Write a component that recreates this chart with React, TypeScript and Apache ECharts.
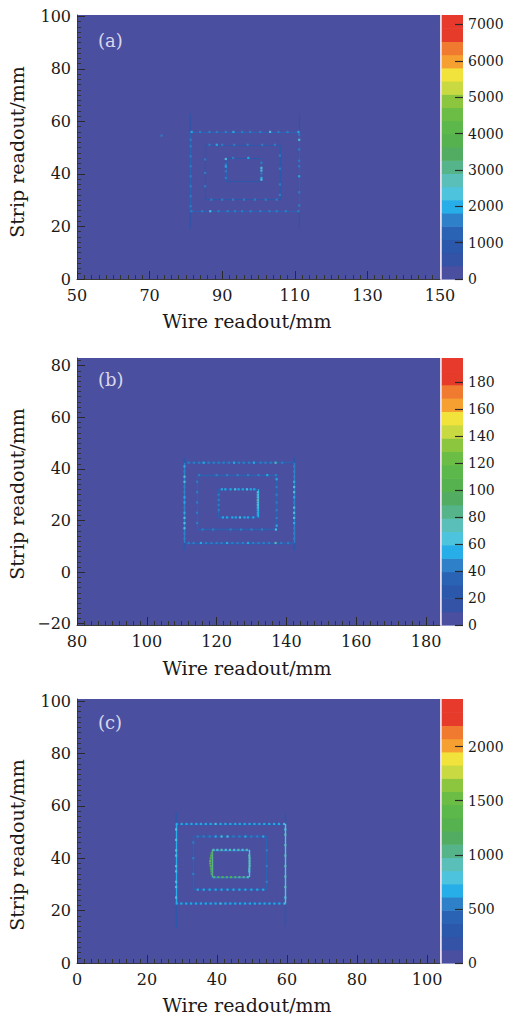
import React, { useEffect, useRef } from 'react';
import * as echarts from 'echarts';

// ROOT-style 20-level palette, lowest band first
const PALETTE = [
  '#4b4f9f', '#3453a6', '#2b58ab', '#2a62b4', '#2e80c8', '#27aee8', '#4ec3de', '#5bbfb9', '#55b48a', '#52ad62',
  '#56b24f', '#5cb84a', '#6bbd45', '#8cc63f', '#c9d941', '#f2e23c', '#f5a030', '#f07a30', '#e63a2b', '#e8392d',
];

// ---------- Panel (a) ----------
const aXTicks = [50, 70, 90, 110, 130, 150];
const aYTicks = [0, 20, 40, 60, 80, 100];
const aZTicks = [0, 1000, 2000, 3000, 4000, 5000, 6000, 7000];
const aXRange = [50, 150];
const aYRange = [0, 100.5];
const aZMax = 7260;
// [x1, y1, x2, y2, counts]
const aEdges: number[][] = [
  [81.3, 25.8, 111.2, 25.8, 1150], [81.3, 56.0, 111.2, 56.0, 1150], [81.3, 25.8, 81.3, 56.0, 1150], [111.2, 25.8, 111.2, 56.0, 1200],
  [85.3, 30.2, 105.9, 30.2, 900], [85.3, 51.1, 105.9, 51.1, 1000], [85.3, 30.2, 85.3, 51.1, 900], [105.9, 30.2, 105.9, 51.1, 900],
  [91.0, 37.2, 100.8, 37.2, 800], [91.0, 46.1, 100.8, 46.1, 900], [91.0, 37.2, 91.0, 46.1, 1150], [100.8, 37.2, 100.8, 46.1, 1150],
  [81.3, 56.0, 81.3, 63.0, 450], [81.3, 19.0, 81.3, 25.8, 450], [111.2, 56.0, 111.2, 63.0, 450], [111.2, 19.0, 111.2, 25.8, 450],
];
// [x, y, counts]
const aHits: number[][] = [
  [81.6, 56.0, 1900], [83.9, 56.0, 1600], [86.5, 56.0, 1500], [88.5, 56.0, 1600], [91.0, 56.0, 1500], [93.1, 56.0, 1900], [95.5, 56.0, 1500],
  [97.7, 56.0, 1600], [100.5, 56.0, 1500], [103.2, 56.0, 2200], [105.5, 56.0, 1500], [108.0, 56.0, 1600], [111.0, 56.0, 1900],
  [81.5, 25.8, 1600], [84.5, 25.8, 1500], [86.7, 25.8, 2200], [89.0, 25.8, 1600], [91.5, 25.8, 1500], [93.5, 25.8, 1700], [95.5, 25.8, 1500],
  [97.8, 25.8, 1700], [100.5, 25.8, 1600], [103.0, 25.8, 1700], [105.0, 25.8, 1500], [107.5, 25.8, 1600], [111.0, 25.8, 1600],
  [81.3, 53.0, 1700], [81.3, 50.5, 1600], [81.3, 46.7, 1700], [81.3, 42.9, 1600], [81.3, 39.1, 1800], [81.3, 35.3, 1700], [81.3, 31.5, 1600], [81.3, 27.7, 1600],
  [111.2, 55.0, 1700], [111.2, 53.0, 2200], [111.2, 49.3, 1600], [111.2, 45.0, 1600], [111.2, 42.9, 1700], [111.2, 39.1, 1900], [111.2, 33.0, 1600], [111.2, 28.0, 1600],
  [86.5, 51.1, 1600], [88.5, 51.1, 1900], [90.0, 51.1, 1700], [93.3, 51.1, 1600], [97.0, 51.1, 1600], [101.0, 51.1, 1600], [104.5, 51.1, 1500],
  [87.0, 30.2, 1500], [90.0, 30.2, 1500], [93.0, 30.2, 1600], [96.0, 30.2, 1500], [99.0, 30.2, 1600], [102.0, 30.2, 1500], [105.0, 30.2, 1500],
  [85.3, 45.5, 1500], [85.3, 40.4, 1500], [85.3, 35.3, 1500],
  [105.9, 47.0, 1500], [105.9, 42.0, 1600], [105.9, 36.0, 1500], [105.9, 32.0, 1500],
  [91.0, 45.7, 2200], [91.0, 43.5, 1700], [91.0, 42.8, 1900], [91.0, 41.0, 1700], [91.0, 38.5, 1800],
  [100.8, 44.2, 1700], [100.8, 42.3, 2200], [100.8, 41.3, 2300], [100.8, 40.2, 1800], [100.8, 38.5, 1900], [100.8, 37.8, 2200],
  [93.0, 46.1, 1600], [97.2, 46.1, 1900],
  [73.3, 54.6, 1800],
];

// ---------- Panel (b) ----------
const bXTicks = [80, 100, 120, 140, 160, 180];
const bYTicks = [-20, 0, 20, 40, 60, 80];
const bZTicks = [0, 20, 40, 60, 80, 100, 120, 140, 160, 180];
const bXRange = [80, 184];
const bYRange = [-20.5, 83];
const bZMax = 198;
const bEdges: number[][] = [
  [110.8, 11.3, 142.2, 11.3, 32], [110.8, 42.4, 142.2, 42.4, 32], [110.8, 11.3, 110.8, 42.4, 45], [142.2, 11.3, 142.2, 42.4, 45],
  [114.4, 16.5, 137.2, 16.5, 30], [114.4, 37.6, 137.2, 37.6, 30], [114.4, 16.5, 114.4, 37.6, 32], [137.2, 16.5, 137.2, 37.6, 36],
  [120.6, 21.2, 131.8, 21.2, 34], [120.6, 32.1, 131.8, 32.1, 34], [120.6, 21.2, 120.6, 32.1, 38], [131.8, 21.2, 131.8, 32.1, 55],
  [110.8, 42.4, 110.8, 44.5, 20], [110.8, 8.5, 110.8, 11.3, 20], [142.2, 42.4, 142.2, 44.5, 20], [142.2, 8.5, 142.2, 11.3, 20],
];
const bHits: number[][] = [
  [112.0, 42.4, 45], [113.5, 42.4, 45], [115.0, 42.4, 45], [116.3, 42.4, 55], [117.7, 42.4, 45], [119.2, 42.4, 45], [120.6, 42.4, 45],
  [122.0, 42.4, 45], [123.5, 42.4, 45], [125.0, 42.4, 50], [126.4, 42.4, 45], [127.8, 42.4, 45], [129.3, 42.4, 45], [130.7, 42.4, 50],
  [132.6, 42.4, 45], [134.0, 42.4, 45], [135.5, 42.4, 45], [136.9, 42.4, 70], [138.8, 42.4, 45],
  [112.0, 11.3, 45], [113.4, 11.3, 45], [115.5, 11.3, 55], [117.0, 11.3, 45], [118.5, 11.3, 45], [120.0, 11.3, 45], [121.4, 11.3, 45],
  [123.0, 11.3, 50], [124.5, 11.3, 45], [126.0, 11.3, 45], [127.5, 11.3, 45], [129.0, 11.3, 50], [130.5, 11.3, 45], [132.0, 11.3, 45],
  [133.5, 11.3, 45], [135.0, 11.3, 45], [136.9, 11.3, 70], [138.5, 11.3, 45], [140.5, 11.3, 45],
  [110.8, 41.0, 50], [110.8, 39.0, 45], [110.8, 37.0, 65], [110.8, 35.0, 62], [110.8, 33.0, 48], [110.8, 31.0, 45], [110.8, 29.0, 50],
  [110.8, 27.0, 55], [110.8, 25.0, 45], [110.8, 23.0, 55], [110.8, 21.0, 65], [110.8, 19.0, 62], [110.8, 17.0, 62], [110.8, 15.0, 48], [110.8, 13.0, 45],
  [142.2, 41.0, 48], [142.2, 39.0, 45], [142.2, 37.0, 48], [142.2, 35.0, 55], [142.2, 33.0, 62], [142.2, 31.0, 65], [142.2, 29.0, 55],
  [142.2, 27.0, 48], [142.2, 25.0, 62], [142.2, 23.0, 65], [142.2, 21.0, 62], [142.2, 19.0, 55], [142.2, 17.0, 48], [142.2, 15.0, 45], [142.2, 13.0, 48],
  [115.0, 37.6, 42], [120.0, 37.6, 42], [123.0, 37.6, 42], [126.0, 37.6, 45], [129.0, 37.6, 42], [132.0, 37.6, 42], [134.5, 37.6, 50], [137.0, 37.6, 42],
  [116.0, 16.5, 42], [119.0, 16.5, 42], [124.0, 16.5, 42], [127.0, 16.5, 45], [130.0, 16.5, 42], [133.0, 16.5, 42], [137.0, 16.5, 62],
  [114.4, 35.0, 40], [114.4, 31.0, 40], [114.4, 27.0, 40], [114.4, 23.0, 40], [114.4, 19.0, 40],
  [137.2, 36.0, 50], [137.2, 33.0, 42], [137.2, 30.0, 42], [137.2, 27.0, 42], [137.2, 24.0, 42], [137.2, 21.0, 42], [137.2, 18.0, 50],
  [121.5, 32.1, 52], [122.5, 32.1, 52], [124.0, 32.1, 52], [125.3, 32.1, 60], [126.3, 32.1, 52], [127.5, 32.1, 52], [128.7, 32.1, 62], [129.8, 32.1, 52], [130.8, 32.1, 52],
  [121.8, 21.2, 52], [123.0, 21.2, 52], [124.5, 21.2, 55], [125.5, 21.2, 52], [126.7, 21.2, 60], [128.0, 21.2, 52], [129.0, 21.2, 52], [130.5, 21.2, 52],
  [120.6, 30.0, 42], [120.6, 28.0, 42], [120.6, 26.0, 42], [120.6, 24.0, 42],
  [131.8, 31.0, 62], [131.8, 30.0, 60], [131.8, 29.0, 66], [131.8, 28.0, 72], [131.8, 27.0, 66], [131.8, 26.0, 62], [131.8, 25.0, 60],
  [131.8, 24.0, 58], [131.8, 23.0, 58], [131.8, 22.0, 55],
];

// ---------- Panel (c) ----------
const cXTicks = [0, 20, 40, 60, 80, 100];
const cYTicks = [0, 20, 40, 60, 80, 100];
const cZTicks = [0, 500, 1000, 1500, 2000];
const cXRange = [0, 103.7];
const cYRange = [0, 100.8];
const cZMax = 2440;
const cEdges: number[][] = [
  [28.3, 22.7, 59.5, 22.7, 450], [28.3, 53.1, 59.5, 53.1, 450], [28.3, 22.7, 28.3, 53.1, 720], [59.5, 22.7, 59.5, 53.1, 780],
  [33.2, 28.0, 54.2, 28.0, 420], [33.2, 48.3, 54.2, 48.3, 420], [33.2, 28.0, 33.2, 48.3, 470], [54.2, 28.0, 54.2, 48.3, 470],
  [38.5, 32.8, 49.2, 32.8, 600], [38.5, 43.2, 49.2, 43.2, 560], [38.5, 32.8, 38.5, 43.2, 1000], [49.2, 32.8, 49.2, 43.2, 800],
  [28.3, 53.1, 28.3, 57.5, 300], [28.3, 13.5, 28.3, 22.7, 300], [59.5, 53.1, 59.5, 57.0, 300], [59.5, 14.0, 59.5, 22.7, 300],
];
const cHits: number[][] = [
  [28.5, 53.1, 650], [29.9, 53.1, 620], [31.3, 53.1, 680], [32.7, 53.1, 620], [34.1, 53.1, 620], [35.4, 53.1, 680], [36.8, 53.1, 620],
  [38.2, 53.1, 620], [39.6, 53.1, 740], [41.0, 53.1, 620], [42.4, 53.1, 620], [43.8, 53.1, 680], [45.2, 53.1, 620], [46.5, 53.1, 620],
  [47.9, 53.1, 680], [49.3, 53.1, 620], [50.7, 53.1, 620], [52.1, 53.1, 680], [53.5, 53.1, 620], [54.9, 53.1, 620], [56.3, 53.1, 680],
  [57.7, 53.1, 620], [59.2, 53.1, 740],
  [28.5, 22.7, 680], [29.8, 22.7, 620], [31.2, 22.7, 620], [32.6, 22.7, 680], [34.0, 22.7, 620], [35.4, 22.7, 620], [36.8, 22.7, 680],
  [38.2, 22.7, 620], [39.6, 22.7, 620], [41.0, 22.7, 760], [42.4, 22.7, 620], [43.8, 22.7, 620], [45.2, 22.7, 680], [46.6, 22.7, 620],
  [48.0, 22.7, 620], [49.4, 22.7, 680], [50.8, 22.7, 620], [52.2, 22.7, 620], [53.6, 22.7, 680], [55.0, 22.7, 620], [56.4, 22.7, 620],
  [57.8, 22.7, 680], [59.3, 22.7, 760],
  [28.3, 51.0, 740], [28.3, 47.0, 780], [28.3, 43.0, 740], [28.3, 41.0, 800], [28.3, 37.0, 740], [28.3, 35.0, 780], [28.3, 31.0, 740],
  [28.3, 29.0, 780], [28.3, 25.0, 740],
  [59.5, 51.0, 820], [59.5, 49.0, 860], [59.5, 45.0, 860], [59.5, 41.0, 880], [59.5, 37.0, 860], [59.5, 33.0, 860], [59.5, 29.0, 860],
  [59.5, 25.0, 820],
  [34.5, 48.3, 600], [36.2, 48.3, 600], [37.9, 48.3, 600], [39.6, 48.3, 620], [41.3, 48.3, 760], [43.0, 48.3, 760], [44.7, 48.3, 600],
  [46.4, 48.3, 600], [48.1, 48.3, 620], [49.8, 48.3, 600], [51.5, 48.3, 600], [53.2, 48.3, 620],
  [34.5, 28.0, 620], [36.2, 28.0, 620], [37.9, 28.0, 680], [39.6, 28.0, 620], [41.3, 28.0, 620], [43.0, 28.0, 680], [44.7, 28.0, 620],
  [46.4, 28.0, 620], [48.1, 28.0, 680], [49.8, 28.0, 620], [51.5, 28.0, 620], [53.2, 28.0, 680],
  [33.2, 46.0, 500], [33.2, 40.0, 540], [33.2, 34.0, 500],
  [54.2, 43.0, 540], [54.2, 37.0, 540], [54.2, 31.0, 500],
  [39.0, 43.2, 860], [40.1, 43.2, 840], [41.3, 43.2, 880], [42.5, 43.2, 840], [43.7, 43.2, 860], [44.9, 43.2, 840], [46.1, 43.2, 880],
  [47.3, 43.2, 840], [48.5, 43.2, 860],
  [39.2, 32.8, 1050], [40.4, 32.8, 1200], [41.6, 32.8, 1250], [42.8, 32.8, 1150], [44.0, 32.8, 1250], [45.2, 32.8, 1200], [46.4, 32.8, 1050],
  [47.6, 32.8, 1000], [48.8, 32.8, 950],
  [38.5, 42.0, 1100], [38.3, 41.0, 1250], [38.2, 40.0, 1400], [38.1, 39.0, 1480], [38.1, 38.0, 1480], [38.2, 37.0, 1400], [38.3, 36.0, 1250],
  [38.4, 35.0, 1200], [38.5, 34.0, 1100],
  [49.2, 41.0, 860], [49.3, 40.0, 900], [49.3, 39.0, 950], [49.3, 38.0, 900], [49.3, 37.0, 950], [49.2, 36.0, 860], [49.2, 35.0, 840],
];

// ---------- layout ----------
const FONT = 'DejaVu Serif';
const PLOT_L = 77;
const PLOT_R = 440;
const CB_L = 441.5;
const CB_R = 463;

const panels = [
  { tag: '(a)', top: 15, bottom: 279, xTicks: aXTicks, yTicks: aYTicks, zTicks: aZTicks, xRange: aXRange, yRange: aYRange, zMax: aZMax,
    edges: aEdges, hits: aHits, xTitleY: 321, yTitleY: 152, tagY: 40, dot: 2.2, edgeW: 1.2 },
  { tag: '(b)', top: 358, bottom: 625, xTicks: bXTicks, yTicks: bYTicks, zTicks: bZTicks, xRange: bXRange, yRange: bYRange, zMax: bZMax,
    edges: bEdges, hits: bHits, xTitleY: 668, yTitleY: 494, tagY: 379, dot: 2.2, edgeW: 1.3 },
  { tag: '(c)', top: 699, bottom: 963, xTicks: cXTicks, yTicks: cYTicks, zTicks: cZTicks, xRange: cXRange, yRange: cYRange, zMax: cZMax,
    edges: cEdges, hits: cHits, xTitleY: 1005, yTitleY: 845, tagY: 722, dot: 2.2, edgeW: 1.4 },
];

const colorFor = (v: number, max: number) =>
  PALETTE[Math.min(PALETTE.length - 1, Math.max(0, Math.floor((v / max) * PALETTE.length)))];

const minorTicks = (min: number, max: number, step: number, majors: number[]) => {
  const out: number[] = [];
  for (let v = Math.ceil(min / step) * step; v <= max + 1e-9; v += step) {
    const r = Math.round(v * 100) / 100;
    if (!majors.includes(r)) out.push(r);
  }
  return out;
};

const fmt = (v: number) => String(v).replace('-', '\u2212');

function buildOption() {
  const grid: any[] = [];
  const xAxis: any[] = [];
  const yAxis: any[] = [];
  const series: any[] = [];
  const graphic: any[] = [];

  panels.forEach((p, i) => {
    const gMain = i * 2;
    const gCb = i * 2 + 1;
    const h = p.bottom - p.top;
    grid.push({ left: PLOT_L, top: p.top, width: PLOT_R - PLOT_L, height: h, show: true, backgroundColor: PALETTE[0], borderWidth: 0 });
    grid.push({ left: CB_L, top: p.top, width: CB_R - CB_L, height: h, show: false });

    const axBase = { type: 'value', splitLine: { show: false }, z: 10 };
    // main x major
    xAxis.push({
      ...axBase, gridIndex: gMain, min: p.xRange[0], max: p.xRange[1], position: 'bottom',
      axisLine: { show: true, onZero: false, lineStyle: { color: '#3a3a3a', width: 1 } },
      axisTick: { show: true, inside: true, length: 8, customValues: p.xTicks, lineStyle: { color: '#2a2a2a', width: 1 } },
      axisLabel: { customValues: p.xTicks, margin: 8, fontFamily: FONT, fontSize: 16, color: '#1a1a1a', formatter: fmt },
    });
    // main x minor
    xAxis.push({
      ...axBase, gridIndex: gMain, min: p.xRange[0], max: p.xRange[1], position: 'bottom',
      axisLine: { show: false, onZero: false },
      axisTick: { show: true, inside: true, length: 4, customValues: minorTicks(p.xRange[0], p.xRange[1], 2, p.xTicks), lineStyle: { color: '#333', width: 1 } },
      axisLabel: { show: false },
    });
    // colorbar x
    xAxis.push({ ...axBase, gridIndex: gCb, min: 0, max: 1, show: false });

    // main y major
    yAxis.push({
      ...axBase, gridIndex: gMain, min: p.yRange[0], max: p.yRange[1], position: 'left',
      axisLine: { show: true, onZero: false, lineStyle: { color: '#3a3a3a', width: 1 } },
      axisTick: { show: true, inside: true, length: 8, customValues: p.yTicks, lineStyle: { color: '#2a2a2a', width: 1 } },
      axisLabel: { customValues: p.yTicks, margin: 6, fontFamily: FONT, fontSize: 16, color: '#1a1a1a', formatter: fmt },
    });
    // main y minor
    yAxis.push({
      ...axBase, gridIndex: gMain, min: p.yRange[0], max: p.yRange[1], position: 'left',
      axisLine: { show: false, onZero: false },
      axisTick: { show: true, inside: true, length: 4, customValues: minorTicks(p.yRange[0], p.yRange[1], 2, p.yTicks), lineStyle: { color: '#333', width: 1 } },
      axisLabel: { show: false },
    });
    // colorbar y
    yAxis.push({
      ...axBase, gridIndex: gCb, min: 0, max: p.zMax, position: 'right',
      axisLine: { show: false, onZero: false },
      axisTick: { show: true, inside: true, length: 8, customValues: p.zTicks, lineStyle: { color: '#2a2a2a', width: 1.2 } },
      axisLabel: { customValues: p.zTicks, margin: 5, fontFamily: FONT, fontSize: 14, color: '#1a1a1a', padding: [0, 0, 6, 0], formatter: (v: number) => String(v) },
    });

    const xi = i * 3;
    const yi = i * 3;

    // colorbar bands
    const step = p.zMax / PALETTE.length;
    series.push({
      type: 'custom', xAxisIndex: xi + 2, yAxisIndex: yi + 2, silent: true, clip: false, z: 1,
      data: PALETTE.map((_, k) => [k * step, (k + 1) * step, k]),
      renderItem: (_params: any, api: any) => {
        const lo = api.value(0);
        const hi = api.value(1);
        const k = api.value(2);
        const p0 = api.coord([0, lo]);
        const p1 = api.coord([1, hi]);
        return {
          type: 'rect',
          shape: { x: p0[0], y: p1[1], width: p1[0] - p0[0], height: p0[1] - p1[1] + 0.6 },
          style: { fill: PALETTE[k] },
        };
      },
    });

    // hit-line segments
    series.push({
      type: 'lines', coordinateSystem: 'cartesian2d', xAxisIndex: xi, yAxisIndex: yi, silent: true, z: 2,
      lineStyle: { width: p.edgeW, opacity: 1 },
      data: p.edges.map((e) => ({ coords: [[e[0], e[1]], [e[2], e[3]]], lineStyle: { color: colorFor(e[4], p.zMax), width: p.edgeW } })),
    });

    // hit cells
    series.push({
      type: 'scatter', xAxisIndex: xi, yAxisIndex: yi, silent: true, z: 3, symbol: 'rect', symbolSize: p.dot,
      data: p.hits.map((d) => ({ value: [d[0], d[1]], itemStyle: { color: colorFor(d[2], p.zMax), opacity: 0.9 } })),
    });

    // separator between plot and colour bar
    graphic.push({ type: 'rect', shape: { x: PLOT_R, y: p.top, width: 1.5, height: h }, style: { fill: '#e6dbe8' }, z: 50 });
    // axis titles
    graphic.push({
      type: 'text', x: 247, y: p.xTitleY, z: 50,
      style: { text: 'Wire readout/mm', fontFamily: FONT, fontSize: 19, fill: '#1a1a1a', align: 'center', verticalAlign: 'middle', textAlign: 'center', textVerticalAlign: 'middle' },
    });
    graphic.push({
      type: 'text', x: 17, y: p.yTitleY, rotation: Math.PI / 2, z: 50,
      style: { text: 'Strip readout/mm', fontFamily: FONT, fontSize: 19, fill: '#1a1a1a', align: 'center', verticalAlign: 'middle', textAlign: 'center', textVerticalAlign: 'middle' },
    });
    // panel tag
    graphic.push({
      type: 'text', x: 98, y: p.tagY, z: 50,
      style: { text: p.tag, fontFamily: FONT, fontSize: 18, fill: '#d8d8ec', align: 'left', verticalAlign: 'middle', textAlign: 'left', textVerticalAlign: 'middle' },
    });
  });

  return { animation: false, backgroundColor: '#ffffff', grid, xAxis, yAxis, series, graphic };
}

export default function App() {
  const ref = useRef<HTMLDivElement>(null);
  useEffect(() => {
    if (!ref.current) return;
    const chart = echarts.init(ref.current, undefined, { renderer: 'svg' });
    chart.setOption(buildOption() as any);
    return () => chart.dispose();
  }, []);
  return <div ref={ref} style={{ position: 'fixed', left: 0, top: 0, width: 507, height: 1016 }} />;
}
